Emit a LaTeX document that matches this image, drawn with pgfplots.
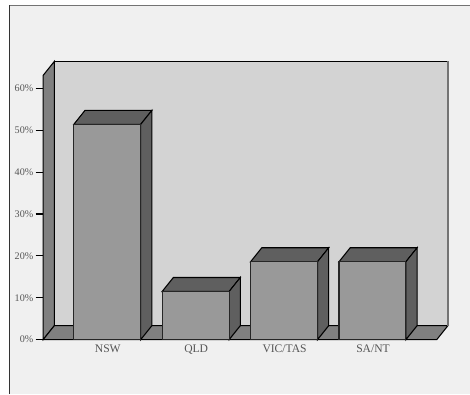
\documentclass[border=0pt]{standalone}
\usepackage{fontspec}
\setmainfont{Liberation Serif}
\usepackage{pgfplots}
\pgfplotsset{compat=1.18}
\definecolor{panel}{HTML}{F0F0F0}
\definecolor{wallback}{HTML}{D3D3D3}
\definecolor{wallside}{HTML}{808080}
\definecolor{barfront}{HTML}{999999}
\definecolor{bardark}{HTML}{5F5F5F}
\definecolor{labelgray}{HTML}{555555}
\begin{document}
\begin{tikzpicture}[x=0.75pt,y=0.75pt]
  % Page area and the panel behind the plot
  \fill[white] (0,0) rectangle (470,394);
  \fill[panel] (9.5,0) rectangle (470,388.5);
  \draw[line width=0.75pt,color=black!55] (9.5,388.5) -- (470,388.5);
  \draw[line width=1.1pt,color=black!80] (9.5,0) -- (9.5,389);
  \begin{axis}[
    at={(32.4pt,40.5pt)}, anchor=south west,
    scale only axis, width=295.5pt, height=198.4pt,
    xmin=-0.725, xmax=3.727, ymin=0, ymax=63.1,
    clip=false,
    axis lines=left, axis line style={-,black,line width=0.8pt},
    xtick={0,1,2,3},
    xticklabels={NSW,QLD,VIC/TAS,SA/NT},
    ytick={0,10,20,30,40,50,60},
    yticklabel={\pgfmathprintnumber{\tick}\%},
    xtick style={draw=none},
    ytick style={black,line width=0.8pt},
    tick align=outside, major tick length=5.6pt,
    y tick label style={font=\fontsize{7.6}{9}\selectfont,text=labelgray,xshift=1.7pt},
    x tick label style={font=\fontsize{8.7}{10}\selectfont,text=labelgray,yshift=5pt,xshift=0.4pt},
    /pgf/number format/assume math mode=true,
  ]
    % Back wall, side wall and floor of the box
    \addplot[fill=wallback,draw=none] coordinates {(-0.5984,3.34) (3.8536,3.34) (3.8536,66.44) (-0.5984,66.44)} --cycle;
    \addplot[fill=wallside,draw=black,line width=0.8pt] coordinates {(-0.725,0) (-0.5984,3.34) (-0.5984,66.44) (-0.725,63.1)} --cycle;
    \addplot[fill=wallside,draw=black,line width=0.8pt] coordinates {(-0.725,0) (3.727,0) (3.8536,3.34) (-0.5984,3.34)} --cycle;
    \addplot[black,line width=0.8pt] coordinates {(-0.5984,66.44) (3.8536,66.44)};
    \addplot[black!55,line width=1pt] coordinates {(3.8536,3.34) (3.8536,66.44)};

    % NSW
    \addplot[fill=bardark,draw=black,line width=0.8pt] coordinates {(-0.3785,51.4) (0.3785,51.4) (0.5051,54.74) (-0.2519,54.74)} --cycle;
    \addplot[fill=bardark,draw=black,line width=0.8pt] coordinates {(0.3785,0) (0.3785,51.4) (0.5051,54.74) (0.5051,3.34)} --cycle;
    \addplot[fill=barfront,draw=black!85,line width=0.8pt] coordinates {(-0.3785,0) (0.3785,0) (0.3785,51.4) (-0.3785,51.4)} --cycle;
    % QLD
    \addplot[fill=bardark,draw=black,line width=0.8pt] coordinates {(0.6215,11.5) (1.3785,11.5) (1.5051,14.84) (0.7481,14.84)} --cycle;
    \addplot[fill=bardark,draw=black,line width=0.8pt] coordinates {(1.3785,0) (1.3785,11.5) (1.5051,14.84) (1.5051,3.34)} --cycle;
    \addplot[fill=barfront,draw=black!85,line width=0.8pt] coordinates {(0.6215,0) (1.3785,0) (1.3785,11.5) (0.6215,11.5)} --cycle;
    % VIC/TAS
    \addplot[fill=bardark,draw=black,line width=0.8pt] coordinates {(1.6215,18.6) (2.3785,18.6) (2.5051,21.94) (1.7481,21.94)} --cycle;
    \addplot[fill=bardark,draw=black,line width=0.8pt] coordinates {(2.3785,0) (2.3785,18.6) (2.5051,21.94) (2.5051,3.34)} --cycle;
    \addplot[fill=barfront,draw=black!85,line width=0.8pt] coordinates {(1.6215,0) (2.3785,0) (2.3785,18.6) (1.6215,18.6)} --cycle;
    % SA/NT
    \addplot[fill=bardark,draw=black,line width=0.8pt] coordinates {(2.6215,18.6) (3.3785,18.6) (3.5051,21.94) (2.7481,21.94)} --cycle;
    \addplot[fill=bardark,draw=black,line width=0.8pt] coordinates {(3.3785,0) (3.3785,18.6) (3.5051,21.94) (3.5051,3.34)} --cycle;
    \addplot[fill=barfront,draw=black!85,line width=0.8pt] coordinates {(2.6215,0) (3.3785,0) (3.3785,18.6) (2.6215,18.6)} --cycle;
  \end{axis}
  \useasboundingbox (0,0) rectangle (470,394);
\end{tikzpicture}
\end{document}
